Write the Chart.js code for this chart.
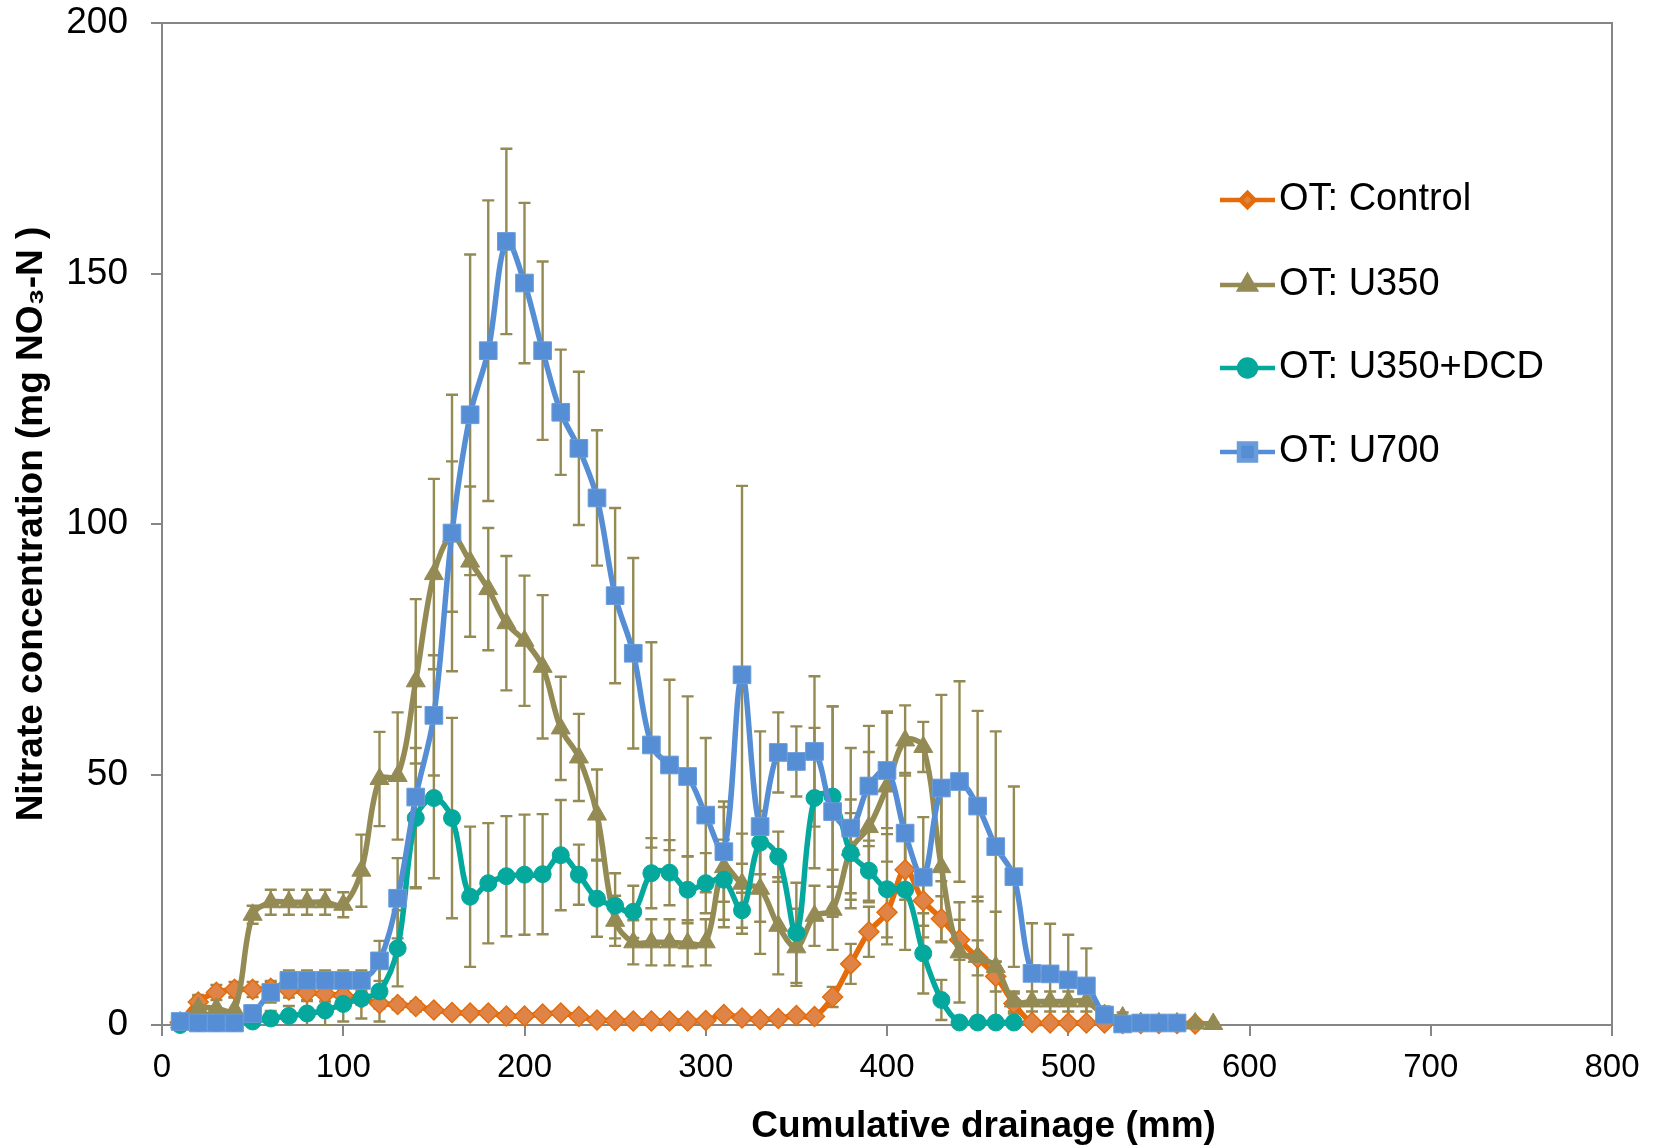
<!DOCTYPE html>
<html><head><meta charset="utf-8">
<script src="https://cdn.jsdelivr.net/npm/chart.js@4/dist/chart.umd.min.js"></script>
<style>html,body{margin:0;padding:0;background:#fff}</style>
</head><body>
<canvas id="c" width="1662" height="1146"></canvas>
<script>
// ---------------- DATA ----------------
const seriesNames = ['OT: Control', 'OT: U350', 'OT: U350+DCD', 'OT: U700'];
const xTickValues = [0, 100, 200, 300, 400, 500, 600, 700, 800];
const yTickValues = [0, 50, 100, 150, 200];
const xAxisTitle = 'Cumulative drainage (mm)';
const yAxisTitle = 'Nitrate concentration (mg NO\u2083-N )';

const drainageControl = [10,20,30,40,50,60,70,80,90,100,110,120,130,140,150,160,170,180,190,200,210,220,230,240,250,260,270,280,290,300,310,320,330,340,350,360,370,380,390,400,410,420,430,440,450,460,470,480,490,500,510,520,530,540,550,560,570];
const nitrateControl = [0.5,4.6,6.5,7.1,7.1,7.3,7.0,6.5,6.2,5.9, 5.3,4.3,4.1,3.7,3.0,2.5,2.4,2.4,1.8,1.8, 2.2,2.4,1.7,1.0,0.9,0.8,0.8,0.8,0.8,0.9, 2.1,1.4,1.1,1.3,1.9,1.7,5.6,12.2,18.6,22.5, 31.0,24.8,21.2,17.0,13.4,9.7,4.3,0.5,0.4,0.4, 0.4,0.4,0.3,0.3,0.3,0.3,0.2];
const errControl = [0.3,1.2,1.5,1.5,1.5,1.5,1.5,1.5,1.5,1.5, 1.2,1.0,1.0,1.0,0.8,0.8,0.8,0.8,0.6,0.6, 0.6,0.6,0.5,0.4,0.4,0.3,0.3,0.3,0.3,0.3, 0.6,0.5,0.4,0.5,0.6,0.6,2.0,4.0,5.0,5.0, 6.0,5.0,4.5,4.0,3.5,3.0,2.0,0.3,0.2,0.2, 0.2,0.2,0.2,0.2,0.2,0.2,0.2];

const drainageU350 = [10,20,30,40,50,60,70,80,90,100,110,120,130,140,150,160,170,180,190,200,210,220,230,240,250,260,270,280,290,300,310,320,330,340,350,360,370,380,390,400,410,420,430,440,450,460,470,480,490,500,510,520,530,540,550,560,570,580];
const nitrateU350 = [0.5,3.4,3.3,3.0,22.0,24.5,24.5,24.5,24.5,24.0, 30.8,49.1,49.7,68.6,90.0,97.5,92.5,87.0,80.2,76.7, 71.5,59.2,53.4,42.0,20.8,16.5,16.5,16.5,16.3,16.5, 31.5,28.2,27.2,19.8,15.5,21.8,23.0,35.0,39.5,47.6, 56.8,55.5,31.5,14.5,13.6,11.6,4.7,4.7,4.7,4.7, 4.7,2.0,1.5,0.4,0.3,0.3,0.3,0.2];
const errU350 = [0.5,2.6,2.5,2.5,1.8,2.5,2.5,2.5,2.5,2.5, 7.2,9.4,12.7,16.4,19.0,15.0,15.0,12.2,13.4,13.0, 14.3,10.3,8.7,9.0,5.0,4.4,4.6,4.6,4.6,4.6, 12.0,10.0,13.0,9.7,7.7,6.0,8.0,10.0,15.0,15.0, 7.0,5.0,15.0,10.0,12.0,11.0,2.0,2.0,2.0,2.0, 2.0,1.0,1.0,0.3,0.3,0.3,0.3,0.3];

const drainageDCD = [10,20,30,40,50,60,70,80,90,100,110,120,130,140,150,160,170,180,190,200,210,220,230,240,250,260,270,280,290,300,310,320,330,340,350,360,370,380,390,400,410,420,430,440,450,460,470];
const nitrateDCD = [0.0,0.4,0.4,0.4,0.7,1.3,1.8,2.3,2.9,4.2, 5.3,6.7,15.3,41.3,45.3,41.3,25.6,28.3,29.7,30.0, 30.1,33.9,30.0,25.2,23.8,22.6,30.3,30.4,27.0,28.3, 29.0,22.9,36.4,33.6,18.4,45.3,45.6,34.3,30.8,27.1, 27.0,14.3,5.0,0.5,0.5,0.5,0.5];
const errDCD = [0.2,0.5,0.5,0.5,1.0,1.5,2.0,2.5,3.0,3.5, 4.0,6.0,7.6,14.0,16.0,20.0,14.0,12.0,12.0,12.0, 12.0,11.0,6.0,7.6,6.5,5.2,7.0,6.5,6.7,6.0, 8.0,3.5,6.3,5.0,10.0,14.0,18.0,8.0,6.0,11.0, 12.0,8.0,4.0,0.5,0.5,0.5,0.5];

const drainageU700 = [10,20,30,40,50,60,70,80,90,100,110,120,130,140,150,160,170,180,190,200,210,220,230,240,250,260,270,280,290,300,310,320,330,340,350,360,370,380,390,400,410,420,430,440,450,460,470,480,490,500,510,520,530,540,550,560];
const nitrateU700 = [0.7,0.4,0.4,0.4,2.3,6.5,8.9,8.9,8.9,8.9, 8.9,12.8,25.3,45.5,61.8,98.2,121.8,134.6,156.4,148.1, 134.6,122.3,115.1,105.2,85.7,74.2,55.9,51.9,49.6,41.9, 34.6,69.9,39.6,54.4,52.6,54.6,42.6,39.3,47.7,50.8, 38.3,29.5,47.3,48.6,43.7,35.6,29.6,10.3,10.2,9.0, 7.8,2.0,0.2,0.4,0.4,0.4];
const errU700 = [0.5,0.5,0.5,0.5,1.5,2.0,2.0,2.0,2.0,2.0, 2.0,4.0,8.0,18.0,12.0,27.6,32.0,30.0,18.5,16.0, 17.8,12.5,15.3,13.5,17.5,19.0,20.5,17.0,16.0,15.4, 10.0,37.7,19.0,8.0,7.0,15.0,21.0,16.0,12.0,11.5, 12.0,12.0,18.6,20.0,19.0,23.0,18.0,10.0,10.0,9.0, 7.5,1.7,0.5,0.5,0.5,0.5];

// ---------------- STYLE ----------------
const FONT = '"Liberation Sans", Arial, sans-serif';
const AXIS_COLOR = '#868686';
const ERR_COLOR = '#948A54';
const styles = [
  {line: '#E46C0A', fill: '#DF8446', border: '#E46C0A', point: 'rectRot', r: 10, legendR: 7, bw: 1.5},
  {line: '#948A54', fill: '#948A54', border: '#948A54', point: 'triangle', r: 11, legendR: 9, bw: 1},
  {line: '#04A89D', fill: '#04A89D', border: '#04A89D', point: 'circle', r: 8.5, legendR: 8.5, bw: 1},
  {line: '#558ED5', fill: '#558ED5', border: '#6A9BDA', point: 'rect', r: 12.5, legendR: 12, bw: 1}
];

const pts = (xs, ys) => xs.map((x, i) => ({x: x, y: ys[i]}));
const seriesData = [
  {x: drainageControl, y: nitrateControl, e: errControl},
  {x: drainageU350, y: nitrateU350, e: errU350},
  {x: drainageDCD, y: nitrateDCD, e: errDCD},
  {x: drainageU700, y: nitrateU700, e: errU700}
];

const datasets = seriesData.map((s, i) => ({
  label: seriesNames[i],
  data: pts(s.x, s.y),
  errors: s.e,
  borderColor: styles[i].line,
  backgroundColor: styles[i].fill,
  pointBackgroundColor: styles[i].fill,
  pointBorderColor: styles[i].border,
  pointBorderWidth: styles[i].bw,
  pointStyle: styles[i].point,
  pointRadius: styles[i].r,
  borderWidth: 5.5,
  tension: 0.35,
  fill: false,
  clip: false,
  order: 4 - i
}));

// ---------------- PLUGINS ----------------
const errorBarPlugin = {
  id: 'errorBars',
  beforeDatasetsDraw(chart) {
    const {ctx, chartArea: a, scales: {x, y}} = chart;
    ctx.save();
    ctx.strokeStyle = AXIS_COLOR; ctx.lineWidth = 2;
    ctx.beginPath();
    ctx.moveTo(a.left, a.top); ctx.lineTo(a.right, a.top); ctx.lineTo(a.right, a.bottom);
    ctx.stroke();
    ctx.beginPath(); ctx.rect(a.left, a.top, a.right - a.left, a.bottom - a.top); ctx.clip();
    ctx.strokeStyle = ERR_COLOR; ctx.lineWidth = 2.4;
    chart.data.datasets.forEach(ds => {
      if (!ds.errors) return;
      ds.data.forEach((p, i) => {
        const e = ds.errors[i];
        if (!e) return;
        const px = x.getPixelForValue(p.x);
        const yt = y.getPixelForValue(p.y + e);
        const yb = y.getPixelForValue(p.y - e);
        ctx.beginPath();
        ctx.moveTo(px, yt); ctx.lineTo(px, yb);
        ctx.moveTo(px - 6, yt); ctx.lineTo(px + 6, yt);
        ctx.moveTo(px - 6, yb); ctx.lineTo(px + 6, yb);
        ctx.stroke();
      });
    });
    ctx.restore();
  }
};

const legendPlugin = {
  id: 'insideLegend',
  afterDraw(chart) {
    const {ctx, chartArea: a} = chart;
    const x0 = a.left + 1058, x1 = a.left + 1113, tx = a.left + 1117;
    const rowY = [200, 285, 368, 452];
    ctx.save();
    chart.data.datasets.forEach((ds, i) => {
      const st = styles[i];
      const yy = rowY[i];
      ctx.strokeStyle = st.line; ctx.lineWidth = 4.5;
      ctx.beginPath(); ctx.moveTo(x0, yy); ctx.lineTo(x1, yy); ctx.stroke();
      ctx.fillStyle = st.fill; ctx.strokeStyle = st.border;
      Chart.helpers.drawPoint(ctx, {pointStyle: st.point, radius: st.legendR, rotation: 0, borderWidth: st.bw}, (x0 + x1) / 2, yy);
      ctx.fillStyle = '#000';
      ctx.font = '38px ' + FONT;
      ctx.textBaseline = 'middle'; ctx.textAlign = 'left';
      ctx.fillText(ds.label, tx, yy);
    });
    ctx.font = 'bold 37px ' + FONT;
    ctx.textAlign = 'center'; ctx.textBaseline = 'alphabetic';
    ctx.fillText(xAxisTitle, a.left + (a.right - a.left) * 0.5666, 1137);
    ctx.restore();
  }
};

// ---------------- CHART ----------------
new Chart(document.getElementById('c'), {
  type: 'line',
  data: {datasets: datasets},
  plugins: [errorBarPlugin, legendPlugin],
  options: {
    responsive: false,
    animation: false,
    layout: {padding: {left: 6, right: 50, top: 23, bottom: 0}},
    plugins: {legend: {display: false}, tooltip: {enabled: false}},
    scales: {
      x: {
        type: 'linear', min: 0, max: 800,
        afterBuildTicks: s => { s.ticks = xTickValues.map(v => ({value: v})); },
        afterFit: s => { s.height = 121; s.paddingLeft = 0; s.paddingRight = 0; },
        grid: {display: true, drawOnChartArea: false, drawTicks: true, tickLength: 11, color: AXIS_COLOR, lineWidth: 2},
        border: {display: true, color: AXIS_COLOR, width: 2},
        ticks: {color: '#000', font: {family: FONT, size: 33}, padding: 12, maxRotation: 0},
        title: {display: false}
      },
      y: {
        type: 'linear', min: 0, max: 200,
        afterBuildTicks: s => { s.ticks = yTickValues.map(v => ({value: v})); },
        afterFit: s => { s.width = 156; s.paddingTop = 0; s.paddingBottom = 0; },
        grid: {display: true, drawOnChartArea: false, drawTicks: true, tickLength: 11, color: AXIS_COLOR, lineWidth: 2},
        border: {display: true, color: AXIS_COLOR, width: 2},
        ticks: {color: '#000', font: {family: FONT, size: 37}, padding: 23},
        title: {display: true, text: yAxisTitle, color: '#000', font: {family: FONT, size: 37, weight: 'bold'}, padding: {top: 4, bottom: 4}}
      }
    }
  }
});
</script>
</body></html>
